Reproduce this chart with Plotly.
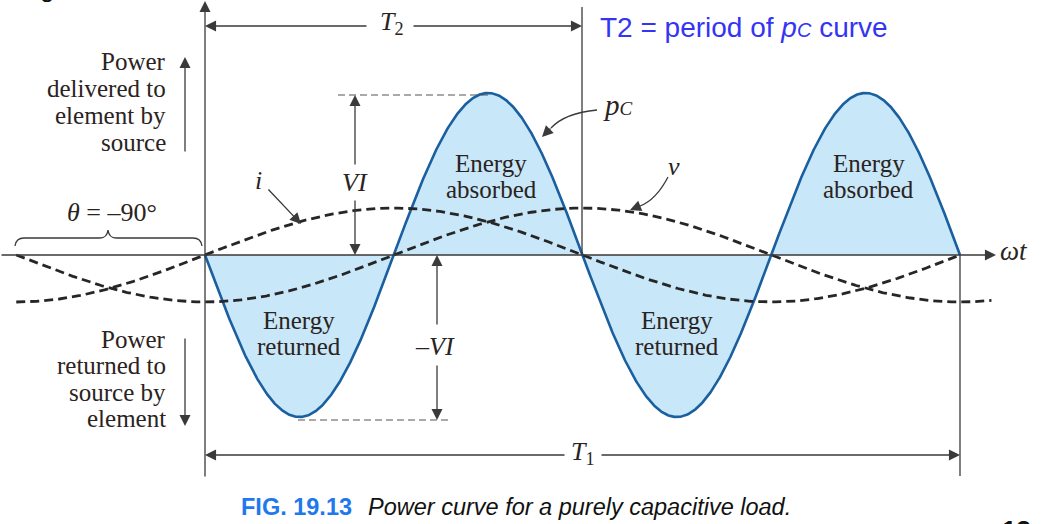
import numpy as np
import plotly.graph_objects as go

# ---------------- data (units: degrees of ωt, VI = 1) ----------------
theta_deg = -90            # phase of v relative to i
pc_peak = 1.0              # VI
i_peak = 0.29              # dashed current amplitude (relative)
v_peak = 0.29              # dashed voltage amplitude (relative)
i_span_deg = [-90, 360]    # extent of dashed i curve
v_span_deg = [-90, 375]    # extent of dashed v curve
pc_span_deg = [0, 360]     # extent of p_C curve
region_labels = ["Energy|returned", "Energy|absorbed", "Energy|returned", "Energy|absorbed"]
region_centers_deg = [45, 135, 225, 315]
delivered_lines = ["Power", "delivered to", "element by", "source"]
returned_lines = ["Power", "returned to", "source by", "element"]

# ---------------- curves ----------------
wt_i = np.linspace(i_span_deg[0], i_span_deg[1], 901)
i_vals = i_peak * np.sin(np.radians(wt_i))
wt_v = np.linspace(v_span_deg[0], v_span_deg[1], 931)
v_vals = v_peak * np.sin(np.radians(wt_v + theta_deg))
wt_p = np.linspace(pc_span_deg[0], pc_span_deg[1], 1441)
p_vals = pc_peak * np.sin(np.radians(wt_p)) * np.sin(np.radians(wt_p + theta_deg)) * 2

# ---------------- pixel <-> data helpers (layout only) ----------------
W, H = 1050, 524
PX_PER_DEG = 755 / 360.0
PX_PER_UNIT = 162.0
def X(px):
    return (px - 205) / PX_PER_DEG
def Y(py):
    return (255 - py) / PX_PER_UNIT
def DX(deg):
    return 205 + deg * PX_PER_DEG

INK = "#2a2321"
LINE = "#3a3a3a"
SERIF = "Liberation Serif, Times New Roman, serif"
SANS = "Liberation Sans, Arial, sans-serif"

fig = go.Figure()

# p_C curve with fill
fig.add_trace(go.Scatter(x=wt_p, y=p_vals, mode="lines", fill="tozeroy",
                         fillcolor="#c8e7f8", line=dict(color="#1a5f9f", width=2.6),
                         hoverinfo="skip", showlegend=False))
# dashed i and v
fig.add_trace(go.Scatter(x=wt_i, y=i_vals, mode="lines",
                         line=dict(color="#262626", width=2.8, dash="9px,5px"),
                         hoverinfo="skip", showlegend=False))
fig.add_trace(go.Scatter(x=wt_v, y=v_vals, mode="lines",
                         line=dict(color="#262626", width=2.8, dash="9px,5px"),
                         hoverinfo="skip", showlegend=False))

shapes = []
annotations = []

def seg(px0, py0, px1, py1, color=LINE, width=1.3, dash="solid"):
    shapes.append(dict(type="line", xref="x", yref="y", x0=X(px0), y0=Y(py0),
                       x1=X(px1), y1=Y(py1), line=dict(color=color, width=width, dash=dash)))

def arrow(px0, py0, px1, py1, color=LINE, width=1.3):
    annotations.append(dict(x=X(px1), y=Y(py1), ax=X(px0), ay=Y(py0), xref="x", yref="y",
                            axref="x", ayref="y", text="", showarrow=True, arrowhead=2,
                            arrowsize=1.7, arrowwidth=width, arrowcolor=color, standoff=0,
                            startstandoff=0))

def text(px, py, s, size=26, family=SERIF, color=INK, xanchor="center", yanchor="middle"):
    annotations.append(dict(x=X(px), y=Y(py), xref="x", yref="y", text=s, showarrow=False,
                            xanchor=xanchor, yanchor=yanchor,
                            font=dict(family=family, size=size, color=color)))

# axes
arrow(0, 255, 996, 255)
arrow(205, 478, 205, 1)
seg(582, 7, 582, 255)
seg(960, 255, 960, 476)

# T2 dimension
arrow(368, 26, 205, 26)
arrow(412, 26, 582, 26)
text(392, 23, "<i>T</i><sub>2</sub>", size=26)
# T1 dimension
arrow(566, 455, 205, 455)
arrow(600, 455, 960, 455)
text(583, 453, "<i>T</i><sub>1</sub>", size=26)

# VI dimension
seg(338, 95, 492, 95, color="#555555", width=1.2, dash="7px,4px")
arrow(355, 166, 355, 95)
arrow(355, 199, 355, 255)
text(355, 182, "<i>VI</i>", size=26)
# -VI dimension
seg(298, 420, 451, 420, color="#555555", width=1.2, dash="7px,4px")
arrow(437, 326, 437, 255)
arrow(437, 364, 437, 420)
text(435, 346, "<i>–VI</i>", size=26)

# side captions (tight leading as in the original, one text per line)
for k, s in enumerate(delivered_lines):
    text(168, 61 + 27 * k, s, size=25, xanchor="right")
arrow(185, 153, 185, 57)
for k, s in enumerate(returned_lines):
    text(168, 339 + 26.5 * k, s, size=25, xanchor="right")
arrow(185, 337, 185, 426)

# region labels
for lab, cdeg in zip(region_labels, region_centers_deg):
    l1, l2 = lab.split("|")
    cx = DX(cdeg) + (3 if l2 == "absorbed" else 0)
    base = 163 if l2 == "absorbed" else 320
    text(cx, base, l1, size=25)
    text(cx, base + 26, l2, size=25)

# theta brace
text(112, 212, "<i>θ</i> = –90°", size=26)
brace = (f"M {X(15)} {Y(246)} Q {X(16)} {Y(238)} {X(24)} {Y(238)} L {X(100)} {Y(238)} "
         f"Q {X(107)} {Y(238)} {X(108)} {Y(230)} Q {X(109)} {Y(238)} {X(116)} {Y(238)} "
         f"L {X(193)} {Y(238)} Q {X(201)} {Y(238)} {X(202)} {Y(246)}")
shapes.append(dict(type="path", xref="x", yref="y", path=brace,
                   line=dict(color=LINE, width=1.3)))

# curve labels
text(258, 180, "<i>i</i>", size=26)
arrow(267, 188, 301, 224)
text(674, 166, "<i>v</i>", size=26)
shapes.append(dict(type="path", xref="x", yref="y",
                   path=f"M {X(668)} {Y(177)} Q {X(656)} {Y(200)} {X(640)} {Y(206)}",
                   line=dict(color=LINE, width=1.3)))
arrow(641, 205.6, 630, 210)
text(618, 105, "<i>p<span style='font-size:19px'>C</span></i>", size=29)
shapes.append(dict(type="path", xref="x", yref="y",
                   path=f"M {X(597)} {Y(110)} Q {X(565)} {Y(113)} {X(551)} {Y(128)}",
                   line=dict(color=LINE, width=1.3)))
arrow(552, 127, 542, 137)

# omega t
text(1014, 251, "<i>ωt</i>", size=27)

# blue note
annotations.append(dict(x=598 / W, y=1 - 27 / H, xref="paper", yref="paper", showarrow=False,
                        xanchor="left", yanchor="middle",
                        text="T2 = period of <i>p<span style='font-size:20px'>C</span></i> curve",
                        font=dict(family=SANS, size=28, color="#3434f4")))

# figure caption
annotations.append(dict(x=239 / W, y=1 - 507 / H, xref="paper", yref="paper", showarrow=False,
                        xanchor="left", yanchor="middle", text="<b>FIG. 19.13</b>",
                        font=dict(family=SANS, size=23.5, color="#1f78ee")))
annotations.append(dict(x=366 / W, y=1 - 507 / H, xref="paper", yref="paper", showarrow=False,
                        xanchor="left", yanchor="middle",
                        text="<i>Power curve for a purely capacitive load.</i>",
                        font=dict(family=SANS, size=23.5, color="#111111")))
# cropped page remnants
annotations.append(dict(x=1000 / W, y=1 - 513 / H, xref="paper", yref="paper", showarrow=False,
                        xanchor="left", yanchor="top", text="<b>13</b>",
                        font=dict(family=SANS, size=26, color="#111111")))
annotations.append(dict(x=38 / W, y=1 - 5 / H, xref="paper", yref="paper", showarrow=False,
                        xanchor="left", yanchor="bottom", text="g",
                        font=dict(family=SANS, size=26, color="#111111")))

fig.update_layout(
    width=W, height=H, margin=dict(l=0, r=0, t=0, b=0),
    paper_bgcolor="white", plot_bgcolor="white",
    xaxis=dict(range=[X(0), X(W)], visible=False, fixedrange=True),
    yaxis=dict(range=[Y(H), Y(0)], visible=False, fixedrange=True),
    shapes=shapes, annotations=annotations, showlegend=False,
)
fig.write_html("out.html", config={"displayModeBar": False})

# remove the browser's default page margin so the figure sits at the window's top-left
with open("out.html", "r", encoding="utf-8") as f:
    html = f.read()
html = html.replace("<head>", "<head><style>html,body{margin:0;padding:0;overflow:hidden;}</style>", 1)
with open("out.html", "w", encoding="utf-8") as f:
    f.write(html)
